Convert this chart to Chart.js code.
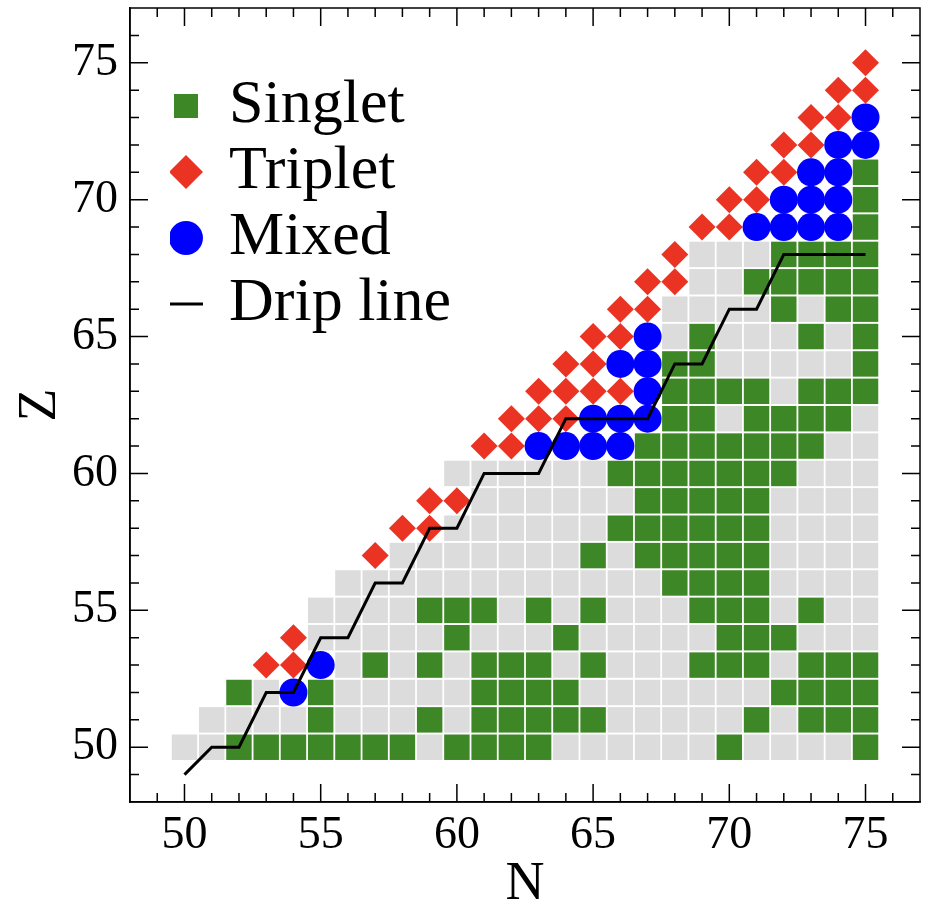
<!DOCTYPE html>
<html>
<head>
<meta charset="utf-8">
<script src="https://cdn.jsdelivr.net/npm/chart.js@4.4.1/dist/chart.umd.min.js"></script>
<style>
html, body { margin: 0; padding: 0; background: #fff; }
#wrap { width: 926px; height: 917px; }
</style>
</head>
<body>
<div id="wrap"><canvas id="nz-chart"></canvas></div>
<script>
// proton numbers, one row of each list per Z
const zValues = [50,51,52,53,54,55,56,57,58,59,60,61,62,63,64,65,66,67,68,69,70,71,72,73,74,75];

// N values of the grey (unmarked) cells
const greyRows = [
  [50,51,59,64,65,66,67,68,69,71,72,73,74],
  [51,52,53,54,56,57,58,60,66,67,68,69,70,72],
  [53,56,57,58,59,60,65,66,67,68,69,70,71],
  [56,58,60,64,66,67,68,72],
  [55,56,57,58,59,61,62,63,65,66,67,68,69,73,74,75],
  [55,56,57,58,62,64,66,67,68,72,74,75],
  [56,57,58,59,60,61,62,63,64,65,66,67,72,73,74,75],
  [58,59,60,61,62,63,64,66,72,73,74,75],
  [60,61,62,63,64,65,72,73,74,75],
  [61,62,63,64,65,66,72,73,74,75],
  [60,61,62,63,64,65,73,74,75],
  [74,75],
  [70,75],
  [72],
  [70,71,72,73,74],
  [68,70,71,72,74],
  [68,69,70,71,73],
  [69,70],
  [69,70,71],
  [], [], [], [], [], [], []
];

const singletRows = [
  [52,53,54,55,56,57,58,60,61,62,63,70,75],
  [55,59,61,62,63,64,65,71,73,74,75],
  [52,55,61,62,63,64,72,73,74,75],
  [57,59,61,62,63,65,69,70,71,73,74,75],
  [60,64,70,71,72],
  [59,60,61,63,65,69,70,71,73],
  [68,69,70,71],
  [65,67,68,69,70,71],
  [66,67,68,69,70,71],
  [67,68,69,70,71],
  [66,67,68,69,70,71,72],
  [67,68,69,70,71,72,73],
  [68,69,71,72,73,74],
  [68,69,70,71,73,74,75],
  [68,69,75],
  [69,73,75],
  [72,74,75],
  [71,72,73,74,75],
  [72,73,74,75],
  [75],
  [75],
  [75],
  [], [], [], []
];

const tripletRows = [
  [], [], [],
  [53,54],
  [54],
  [], [],
  [57],
  [58,59],
  [59,60],
  [],
  [61,62],
  [62,63,64],
  [63,64,65,66],
  [64,65],
  [65,66],
  [66,67],
  [67,68],
  [68],
  [69,70],
  [70,71],
  [71,72],
  [72,73],
  [73,74],
  [74,75],
  [75]
];

const mixedRows = [
  [], [],
  [54],
  [55],
  [], [], [], [], [], [], [],
  [63,64,65,66],
  [65,66,67],
  [67],
  [66,67],
  [67],
  [], [], [],
  [71,72,73,74],
  [72,73,74],
  [73,74],
  [74,75],
  [75],
  [], []
];

// drip line vertices
const dripN = [50,51,52,53,54,55,56,57,58,59,60,61,63,64,67,68,69,70,71,72,75];
const dripZ = [49,50,50,52,52,54,54,56,56,58,58,60,60,62,62,64,64,66,66,68,68];

const axisMin = 48;
const axisMax = 77;

function toPoints(rows) {
  const pts = [];
  rows.forEach((row, i) => {
    row.forEach(n => pts.push({x: n, y: zValues[i]}));
  });
  return pts;
}

const serif = 'Liberation Serif';
Chart.defaults.font.family = serif;
Chart.defaults.color = '#000';

// ticks pointing inwards on all four sides, plus the box
const boxTicks = {
  id: 'boxTicks',
  afterDraw(chart) {
    const {ctx, chartArea: a, scales: {x, y}} = chart;
    ctx.save();
    ctx.strokeStyle = '#000';
    ctx.lineWidth = 1.5;
    ctx.strokeRect(a.left, a.top, a.right - a.left, a.bottom - a.top);
    ctx.beginPath();
    for (let v = axisMin + 1; v < axisMax; v++) {
      const len = v % 5 === 0 ? 18 : 9;
      const px = x.getPixelForValue(v);
      const py = y.getPixelForValue(v);
      ctx.moveTo(px, a.bottom); ctx.lineTo(px, a.bottom - len);
      ctx.moveTo(px, a.top); ctx.lineTo(px, a.top + len);
      ctx.moveTo(a.left, py); ctx.lineTo(a.left + len, py);
      ctx.moveTo(a.right, py); ctx.lineTo(a.right - len, py);
    }
    ctx.stroke();
    ctx.restore();
  }
};

// move the legend from the corner of the plot to where it sits in the figure
const legendShift = {
  id: 'legendShift',
  afterLayout(chart) {
    const l = chart.legend;
    l.left += 40; l.right += 40;
    l.top += 71; l.bottom += 71;
  }
};

const ctx = document.getElementById('nz-chart').getContext('2d');

const myChart = new Chart(ctx, {
  type: 'scatter',
  data: {
    datasets: [
      {
        label: 'Singlet',
        data: toPoints(singletRows),
        pointStyle: 'rect',
        pointRadius: 18,
        backgroundColor: '#3e8727',
        pointBackgroundColor: '#3e8727',
        pointBorderWidth: 0,
        order: 3
      },
      {
        label: 'Triplet',
        data: toPoints(tripletRows),
        pointStyle: 'rectRot',
        pointRadius: 13.5,
        backgroundColor: '#ea3323',
        pointBackgroundColor: '#ea3323',
        pointBorderWidth: 0,
        order: 2
      },
      {
        label: 'Mixed',
        data: toPoints(mixedRows),
        pointStyle: 'circle',
        pointRadius: 14,
        backgroundColor: '#0000ff',
        pointBackgroundColor: '#0000ff',
        pointBorderWidth: 0,
        order: 1
      },
      {
        label: 'Drip line',
        data: dripN.map((n, i) => ({x: n, y: dripZ[i]})),
        showLine: true,
        borderColor: '#000',
        borderWidth: 3,
        pointRadius: 0,
        pointStyle: 'line',
        pointBorderColor: '#000',
        pointBorderWidth: 3,
        order: 0
      },
      {
        label: 'grid',
        data: toPoints(greyRows),
        pointStyle: 'rect',
        pointRadius: 18,
        backgroundColor: '#dcdcdc',
        pointBackgroundColor: '#dcdcdc',
        pointBorderWidth: 0,
        order: 4
      }
    ]
  },
  options: {
    responsive: true,
    maintainAspectRatio: false,
    animation: false,
    events: [],
    layout: { autoPadding: false, padding: { top: 8, right: 6, left: 0, bottom: 0 } },
    plugins: {
      tooltip: { enabled: false },
      legend: {
        position: 'chartArea',
        align: 'start',
        labels: {
          usePointStyle: true,
          boxHeight: 24,
          boxWidth: 24,
          padding: 4,
          color: '#000',
          font: { family: serif, size: 62 },
          filter: item => item.datasetIndex < 4,
          sort: (a, b) => a.datasetIndex - b.datasetIndex
        }
      }
    },
    scales: {
      x: {
        type: 'linear',
        min: axisMin,
        max: axisMax,
        afterFit: s => {
          s.height = 115;
          s.paddingLeft = 0;
          s.paddingRight = 0;
        },
        grid: { display: false, drawTicks: false },
        border: { display: true, color: '#000', width: 1.5 },
        ticks: {
          stepSize: 5,
          includeBounds: false,
          maxRotation: 0,
          padding: 6,
          color: '#000',
          font: { family: serif, size: 46 }
        },
        title: {
          display: true,
          text: 'N',
          color: '#000',
          font: { family: serif, size: 54 },
          padding: { top: 0, bottom: 0 }
        }
      },
      y: {
        type: 'linear',
        min: axisMin,
        max: axisMax,
        afterFit: s => {
          s.width = 130;
          s.paddingTop = 0;
          s.paddingBottom = 0;
        },
        grid: { display: false, drawTicks: false },
        border: { display: true, color: '#000', width: 1.5 },
        ticks: {
          stepSize: 5,
          includeBounds: false,
          padding: 12,
          color: '#000',
          font: { family: serif, size: 46 }
        },
        title: {
          display: true,
          text: 'Z',
          color: '#000',
          font: { family: serif, size: 54 },
          padding: { top: 8, bottom: 0 }
        }
      }
    }
  },
  plugins: [boxTicks, legendShift]
});
</script>
</body>
</html>
